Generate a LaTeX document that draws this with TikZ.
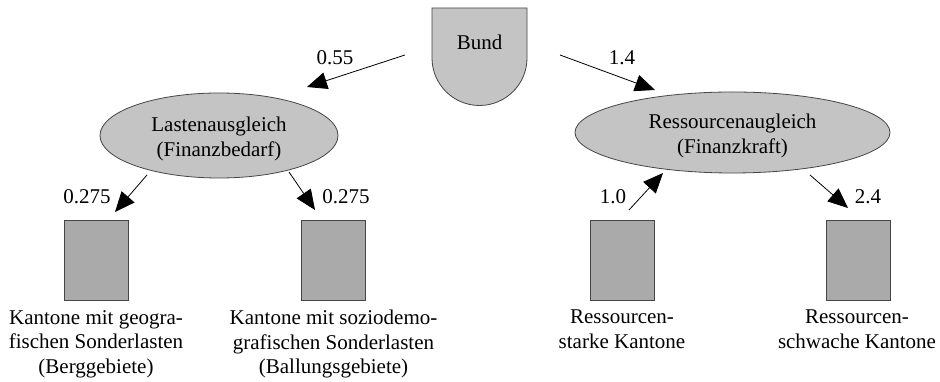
\documentclass[tikz,border=0pt]{standalone}
\usepackage{fontspec}
\setmainfont{Liberation Serif}
\usetikzlibrary{shapes.geometric,arrows.meta}
\definecolor{lightfill}{RGB}{196,196,196}
\definecolor{boxfill}{RGB}{170,170,170}
\definecolor{edge}{RGB}{70,70,70}
\begin{document}
\begin{tikzpicture}[x=1pt,y=1pt,
  every node/.style={font=\fontsize{21}{24.5}\selectfont, inner sep=0pt},
  oval/.style={ellipse, draw=edge, line width=0.8pt, fill=lightfill, align=center},
  canton/.style={rectangle, draw=edge, line width=0.8pt, fill=boxfill, minimum width=64pt, minimum height=80pt},
  caption/.style={align=center, anchor=north},
  flow/.style={line width=0.8pt, -{Triangle[length=20pt,width=17pt]}},
  amount/.style={}
]
\fill[white] (0,0) rectangle (940,382);
\useasboundingbox (0,0) rectangle (940,382);

% Bund
\draw[edge, line width=0.8pt, fill=lightfill] (432,374) -- (527,374) -- (527,324)
  arc[start angle=0, end angle=-180, radius=47.5] -- cycle;
\node (bund) at (479.5,340) {Bund};

% Ellipses
\node[oval, minimum width=238pt, minimum height=85pt] (last) at (219,246.5) {};
\node[align=center] (lasttext) at (219,243) {Lastenausgleich\\(Finanzbedarf)};
\node[oval, minimum width=315pt, minimum height=81pt] (ress) at (732.5,249.5) {};
\node[align=center] (resstext) at (732.5,246) {Ressourcenaugleich\\(Finanzkraft)};

% Boxes
\node[canton] (k1) at (96,121.5) {};
\node[canton] (k2) at (333.5,121.5) {};
\node[canton] (k3) at (622,121.5) {};
\node[canton] (k4) at (858,121.5) {};

% Captions
\node[caption] (c1) at (96,72) {Kantone mit geogra-\\fischen Sonderlasten\\(Berggebiete)};
\node[caption] (c2) at (333.5,72) {Kantone mit soziodemo-\\grafischen Sonderlasten\\(Ballungsgebiete)};
\node[caption] (c3) at (622,72) {Ressourcen-\\starke Kantone};
\node[caption] (c4) at (857,72) {Ressourcen-\\schwache Kantone};

% Arrow end points
\coordinate (a1s) at (405,327); \coordinate (a1e) at (307,295);
\coordinate (a2s) at (560,327); \coordinate (a2e) at (655,292);
\coordinate (a3s) at (147,207); \coordinate (a3e) at (115,170);
\coordinate (a4s) at (289,210); \coordinate (a4e) at (315,172);
\coordinate (a5s) at (629,172); \coordinate (a5e) at (663,209);
\coordinate (a6s) at (810,207); \coordinate (a6e) at (848,174);

\draw[flow] (a1s) -- (a1e);
\draw[flow] (a2s) -- (a2e);
\draw[flow] (a3s) -- (a3e);
\draw[flow] (a4s) -- (a4e);
\draw[flow] (a5s) -- (a5e);
\draw[flow] (a6s) -- (a6e);

% Amounts
\node[amount] (l1) at (335,324) {0.55};
\node[amount] (l2) at (622,324) {1.4};
\node[amount] (l3) at (87,185) {0.275};
\node[amount] (l4) at (346,185) {0.275};
\node[amount] (l5) at (613,185) {1.0};
\node[amount] (l6) at (868,185) {2.4};
\end{tikzpicture}
\end{document}
